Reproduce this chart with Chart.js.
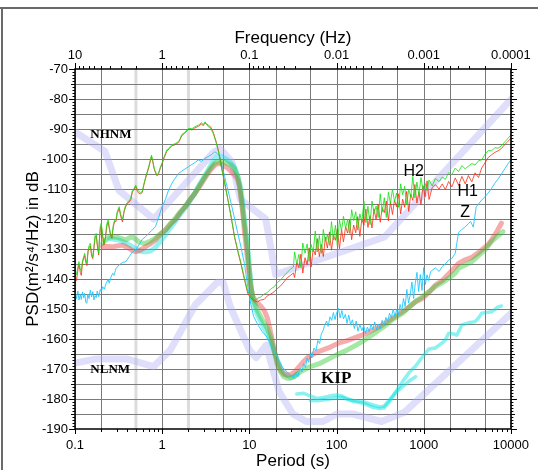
<!DOCTYPE html>
<html>
<head>
<meta charset="utf-8">
<script src="https://cdn.jsdelivr.net/npm/chart.js@4.4.1/dist/chart.umd.min.js"></script>
<style>
  html, body { margin: 0; padding: 0; background: #fff; }
  #wrap { width: 538px; height: 470px; }
</style>
</head>
<body>
<div id="wrap"><canvas id="psd" width="538" height="470"></canvas></div>
<script>
// axis ticks
const periodDecades = [0.1, 1, 10, 100, 1000, 10000];
const periodLabels = ['0.1', '1', '10', '100', '1000', '10000'];
const freqLabels = ['10', '1', '0.1', '0.01', '0.001', '0.0001'];
const periodGrid = [0.1, 0.2, 0.5, 1, 2, 5, 10, 20, 50, 100, 200, 500, 1000, 2000, 5000, 10000];
const microseismGrid = [0.5, 2];

// Peterson noise models
const nhnmPeriod = [0.1, 0.22, 0.32, 0.8, 3.8, 4.6, 6.3, 7.9, 15.4, 20, 354.8, 10000];
const nhnmPsd = [-91.0, -97.4, -110.5, -120.0, -98.0, -96.5, -101.0, -113.5, -120.0, -138.5, -126.0, -80.1];
const nlnmPeriod = [0.1, 0.17, 0.4, 0.8, 1.24, 2.4, 4.3, 5.0, 6.0, 10, 12, 15.6, 21.9, 31.6, 45, 70, 101, 154, 328, 600, 10000];
const nlnmPsd = [-168.0, -166.7, -166.7, -169.2, -163.7, -148.6, -141.1, -141.1, -149.0, -163.7, -166.2, -162.1, -177.5, -185.0, -187.5, -187.5, -185.0, -185.0, -187.5, -184.4, -151.5];

// horizontals H1 / H2 (thin), shared period grids
const leftPeriod = [0.1,0.104,0.108,0.111,0.115,0.118,0.122,0.126,0.129,0.133,0.137,0.141,0.146,0.15,0.155,0.16,0.165,0.17,0.175,0.18,
  0.187,0.19,0.195,0.2,0.207,0.215,0.223,0.232,0.24,0.247,0.255,0.265,0.275,0.285,0.295,0.305,0.321,0.335,0.35,0.365,
  0.38,0.399,0.415,0.436,0.455,0.475,0.497,0.52,0.542,0.565,0.59,0.62,0.645,0.673,0.7,0.73,0.754,0.78,0.8,0.822,
  0.85,0.873,0.91,0.95,0.995,1.05,1.13,1.2,1.29,1.4,1.54,1.6,1.68,1.8,2.0,2.2,2.38,2.6,2.83,2.95,
  3.1,3.37,3.6,3.84,4.18,4.5,4.76,5.2,5.68,6.2,6.76,7.37,8.03,8.8,9.57];
const h2Left = [-137.6,-138.5,-136,-134.2,-136.5,-137.5,-133.8,-132.5,-131.4,-133.5,-134.8,-130.5,-128.6,-128.1,-131.5,-132.6,-129,-125.5,-124.8,-128,
  -131.4,-127,-122.5,-121.4,-125,-128.1,-126,-121.5,-120.3,-122.5,-124.8,-125.9,-122,-120.3,-120.3,-117.5,-115.9,-118.5,-120.3,-117.2,
  -115.5,-114.4,-114,-113.1,-110.5,-109.8,-108.7,-110.2,-110.9,-111.2,-110.9,-108,-106,-104.2,-102.5,-100.4,-98.7,-100.5,-102.3,-103.7,
  -104.6,-105.3,-104.6,-102.8,-101.4,-99.3,-97,-96.2,-95.3,-94.9,-94.2,-93.3,-91.8,-91.2,-89.8,-89.9,-89.2,-88.7,-87.9,-88.6,
  -87.6,-89.2,-89.8,-91.4,-94.8,-98.5,-102.6,-108,-113.7,-119.5,-125.9,-130.5,-134.8,-139.8,-144.2];
const h1Left = [-139.5,-140.5,-137,-135,-137.8,-138.8,-134.5,-133,-132.2,-134.5,-135.5,-131,-129.4,-129,-132.3,-133.2,-129.8,-126.3,-125.5,-128.8,
  -132,-127.8,-123.3,-122.2,-125.8,-128.6,-126.5,-122.3,-121,-123.2,-125.3,-126.4,-122.6,-120.8,-120.9,-118.2,-116.5,-119.2,-121,-117.8,
  -116,-114.8,-114.5,-113.6,-111,-110.2,-109.2,-110.8,-111.5,-111.6,-111.2,-108.4,-106.5,-104.6,-103,-100.8,-99.2,-100.9,-102.7,-104,
  -104.9,-105.6,-104.9,-103.2,-101.7,-99.7,-97.4,-96.6,-95.6,-95.3,-94.5,-93.6,-92.2,-91.5,-90.1,-90.3,-89.6,-89.1,-88.3,-88.9,
  -88,-88.7,-89.3,-91,-94.4,-98.2,-102.3,-107.8,-113.6,-119.6,-126,-130.8,-135.2,-140.3,-144.8];

const bendPeriod = [10.4, 11.2, 11.9, 12.4, 13.5, 14.8, 16.1, 17.6, 19.2, 20.9, 22.8, 24.9, 27.2, 29.6, 32];
const h2Bend = [-145.9, -146.8, -147, -146.4, -146, -145, -144.5, -143.3, -142.6, -141.2, -140.3, -139, -137.8, -136.7, -136];
const h1Bend = [-146.3, -147.2, -147.5, -147.6, -147, -146.8, -145.6, -145, -144.3, -143.2, -142.3, -141, -139.6, -138.8, -138];

const bandPeriod = [33,35,37,39,41,43.5,46,48.5,51,54,57,60,63.5,67,70.5,74.5,78.5,83,87.5,92,
  97,102,108,114,120,127,134,141,149,157,166,175,185,195,206,217,229,242,255,269,
  284,300,317,334,353,372,393,415,438,462,488,515,543,573,605,638,673,710,750,791,
  835,881,930,981,1035,1092,1150];
const h2Band = [-131,-135,-131.8,-136.2,-128,-131.4,-128.3,-134.1,-128.5,-131,-124,-131,-125.5,-131.5,-123.5,-127.6,-125.2,-128.8,-120.9,-127,
  -122.1,-128.8,-120.4,-124,-119.1,-123.1,-120.2,-124.8,-116.9,-120.5,-117.6,-123.7,-118.3,-121,-114.1,-121.2,-115.8,-121.9,-114,-118.1,
  -115.7,-119.5,-111.6,-117.7,-112.9,-119.5,-111.1,-114.8,-110,-114.2,-111.4,-116.1,-108.3,-111.9,-109.1,-115.3,-110,-112.7,-105.8,-113,
  -107.7,-112,-106.2,-110.4,-108.1,-110.5,-107];
const h1Band = [-139.5,-134.5,-136.3,-131.7,-138,-132.9,-135.3,-129.6,-136,-130,-132,-126.5,-132.5,-128.5,-132.5,-126.1,-129.7,-124.3,-130.4,-125.5,
  -127.1,-123.3,-129.9,-123.5,-127.6,-122.6,-124.7,-120.3,-126.9,-122,-124.6,-119.2,-125.8,-120,-122.1,-116.7,-122.8,-118.9,-123,-116.6,
  -120.2,-115,-121.1,-116.2,-117.9,-114,-120.6,-114.3,-118.5,-113.7,-115.9,-111.6,-118.3,-113.4,-116.1,-110.8,-117.5,-111.7,-113.8,-108.5,
  -114.7,-111,-115.2,-108.9,-112.6,-107.3,-113.5];

const tailPeriod = [1250,1360,1500,1630,1770,1930,2100,2300,2510,2740,2990,3250,3560,3880,4250,4620,5030,5490,6000,6530,7100,7780,8500,9200,10000];
const h2Tail = [-109,-106.5,-107.5,-106,-106.8,-104.5,-105.2,-103,-104.2,-102.2,-103.3,-102.4,-101.5,-102,-100.6,-100.3,-98.5,-97.2,-97.3,-96.2,-96.4,-95.6,-94.3,-93.2,-92];
const h1Tail = [-109.5,-108.5,-110,-108.3,-110.2,-107.5,-109.3,-106.3,-108.8,-105.8,-108.3,-105.5,-107.6,-104.6,-106.2,-103,-101.3,-99.5,-98.6,-97.8,-97.3,-96.5,-95.2,-94.2,-93];

// vertical Z (thin)
const zLeftPeriod = [0.1,0.104,0.108,0.111,0.115,0.118,0.122,0.126,0.129,0.133,0.137,0.14,0.145,0.15,0.155,0.16,0.165,0.17,0.175,0.18,
  0.187,0.195,0.2,0.208,0.217,0.227,0.24,0.247,0.258,0.27,0.28,0.295,0.321,0.35,0.383,0.42,0.455,0.497,0.542,0.59,
  0.645,0.7,0.76,0.837,0.91,0.995,1.09,1.185,1.3,1.41,1.54,1.68,1.83,2.0,2.2,2.38,2.59,2.83,3.09,3.37,
  3.65,4.01,4.3,4.57,5.21,6.18,7.37,8.03,8.77,9.57];
const zLeftPsd = [-144.5,-146.5,-144,-147,-145.2,-146.8,-144.3,-146.3,-144.8,-147.8,-148.1,-145,-146.5,-143.7,-146,-144.2,-147,-145.5,-146.2,-144,
  -145.9,-143.5,-144.2,-142.6,-143.4,-141.5,-140.2,-141.4,-139.5,-138.1,-138.8,-136.5,-135.3,-134.5,-134.2,-132.5,-131,-130.3,-128.6,-126.8,
  -125.9,-124.8,-123.8,-122.6,-119.5,-115.9,-113.5,-110.3,-108,-106.4,-104.8,-104,-103.3,-102.6,-101.8,-101.2,-100.3,-100.8,-99.8,-99.2,
  -98.6,-97.6,-98.2,-99.2,-105.9,-114.8,-124.8,-129.5,-134.8,-142.5];
const zMidPeriod = [10.4,11.2,12.4,14,16.1,18,20.9,24,27.2,30,32.4,34,36,38,40,42,44,46,48,50,
  52,55,58,61,64,67,70,73,77,80,84,88,92,96,100,105,110,115,120,126,
  132,138,145,152,160,168,176,185,195,205,215,226,237,249,261,274,288,302,317,333,
  350,368,386,405,425,446,468,490,512,535,560,585,612,640,670,700,732,765,800,836,
  874,913,955,998,1043,1090,1140];
const zMidPsd = [-148.5,-152.5,-155,-157.5,-159.5,-162.5,-166,-169.5,-171,-172.3,-172.8,-171.5,-172.5,-169.8,-171,-168.2,-169.5,-166.3,-167.8,-165,
  -166.3,-163,-164,-160.5,-161.5,-158.2,-157.2,-155.5,-154,-155.8,-152.6,-153.8,-151.2,-153.5,-151.4,-149.8,-153,-150.5,-153.3,-151.8,
  -154.8,-152,-155.2,-153.6,-156.5,-154,-157.4,-155.2,-157.2,-155.5,-158.2,-156,-157.6,-155,-156.9,-154.3,-157,-155,-156.6,-153.8,
  -155.5,-152.8,-154.3,-151.4,-153,-150,-152.5,-150.2,-152,-148.5,-150.6,-146.5,-149.2,-143.5,-148,-145.2,-141,-146.5,-141.4,-137.8,
  -144.2,-138.5,-143.8,-136.2,-141.8,-138.6,-140.5];
const zTailPeriod = [1200,1360,1500,1630,1770,1930,2100,2300,2400,2510,2740,2990,3250,3440,3580,3700,4000,4300,4620,5030,5490,6000,6530,7100,7780,8500,9200,10000];
const zTailPsd = [-137.5,-136.3,-137.5,-135.9,-135,-133.7,-133.2,-131.4,-128,-124.5,-123.5,-122.6,-121.6,-120.8,-121.8,-122.7,-115.9,-114.8,-113.7,-112.6,-111.3,-109.8,-108.1,-106.7,-105,-103.3,-101.7,-100.3];

// KIP smoothed curves (thick)
const h1SmoothPeriod = [0.207,0.247,0.27,0.3,0.35,0.383,0.417,0.455,0.497,0.542,0.59,0.645,0.74,0.837,0.95,1.087,1.25,1.41,1.6,1.83,
  2.1,2.38,2.7,3.09,3.5,4.01,4.57,5.2,5.68,6.18,6.76,7.37,7.71,8.03,8.4,8.77,9.17,9.57,10,10.4,
  11,11.9,13.5,14.8,16.1,17.6,19.2,20.9,22.8,24.9,27.2,30,33,37,42,46,52,59.4,70,85,
  109,130,169,200,261,310,403,500,623,809,964,1150,1360,1630,1930,2300,2510,2990,3560,4250,
  4620,5490,6000,6530,7100,7780];
const h1SmoothPsd = [-129.2,-129.2,-129.3,-129,-128.7,-129.2,-129.8,-130.5,-130.9,-130.6,-130,-129.2,-128.2,-127,-125.2,-123.7,-121.6,-120.3,-118,-115.9,
  -113.5,-111.4,-109,-106.4,-104,-102,-101.4,-102.3,-103.1,-104.2,-105.3,-107,-109.2,-113,-118,-124,-129,-134,-139.5,-143,
  -146,-147.5,-149,-150.5,-153,-158,-163.5,-168,-170.5,-171.8,-172,-171.8,-171,-169.3,-167.5,-166.3,-165.4,-164.4,-163.6,-162.7,
  -161.2,-160.6,-159.4,-158.6,-157,-156,-153.8,-152,-150.2,-147.6,-146.5,-144.5,-142,-140.5,-138.3,-136,-134.8,-133.6,-132.8,-131.2,
  -130.3,-128.5,-127,-125.3,-123.5,-121.4];
const h2SmoothPeriod = [0.207,0.247,0.3,0.35,0.383,0.42,0.455,0.5,0.542,0.59,0.645,0.74,0.837,0.95,1.087,1.25,1.41,1.6,1.83,2.1,
  2.38,2.7,3.09,3.5,4.01,4.57,5.2,5.68,6.18,6.76,7.37,7.71,8.03,8.4,8.77,9.17,9.57,10,10.4,11,
  12.4,14,16.1,17.6,19.2,20.9,22.8,24.9,27.2,29.6,32.4,35.3,42.1,50,64.9,77,100,130,155,200,
  239,300,370,450,572,700,820,964,1150,1360,1630,1930,2300,2510,2990,3560,4250,5030,6000,7100,
  8110];
const h2SmoothPsd = [-128.1,-125.9,-126,-126.6,-127,-126.3,-125.9,-126.8,-127.6,-128,-128.1,-127.3,-126.4,-125,-123.7,-121.5,-119.8,-117.8,-115.9,-113.4,
  -111.4,-108.8,-105.9,-103.5,-101.4,-100.9,-101.1,-101.6,-102,-103.2,-105.9,-109,-112.5,-117,-121.5,-126,-131,-137,-142,-146.5,
  -150.5,-153.5,-156.5,-159.5,-164,-168.5,-171,-172.6,-173.1,-173.1,-172.6,-171.6,-170.3,-169.2,-168.1,-167,-165.3,-163.8,-162.6,-160.7,
  -159.2,-157.2,-155.3,-153.3,-151.4,-149,-147.3,-145.9,-144.2,-142.5,-141.2,-139.8,-138,-136.4,-135.3,-134.2,-132.2,-130.3,-127.5,-125.6,
  -124.2];
const zSmoothPeriod = [0.25,0.32,0.383,0.455,0.54,0.59,0.673,0.74,0.837,0.913,1.05,1.185,1.36,1.54,1.75,2.0,2.3,2.59,2.95,3.37,
  3.84,4.18,4.76,5.4,6.18,6.76,7.37,8.03,8.4,8.77,9.17,9.57,10,10.4,11,12.4,14,16.1,17.6,19.2,
  20.9,22.8,24.9,27.2,29.6,32.4,36];
const zSmoothPsd = [-126.5,-127,-128,-129.2,-130.5,-130.9,-130.9,-130.6,-129.5,-128.1,-126,-123.7,-121.5,-119.2,-117,-114.8,-112,-109.2,-106.5,-103.7,
  -100.6,-99.4,-99.2,-100,-101.4,-102.8,-105.9,-110,-115,-120,-125,-130,-136,-142,-147.5,-152,-155,-158.5,-161,-164,
  -167,-169.5,-171.2,-172.2,-172.8,-172.6,-171.6];
const zLowAPeriod = [35,42,50,59.4,70,77.2,90,100,115,130,155,200,261,310,350,403,480,572,680,809];
const zLowAPsd = [-178.3,-178.1,-179,-179.8,-179.5,-179.2,-178.8,-178.7,-179,-179.8,-180.5,-180.9,-182,-182.6,-182.4,-180.3,-177.8,-175.9,-174,-172.6];
const zLowBPeriod = [50,60,77,100,115,130,155,200,261,310,350,403,480,572,680,743,809,964,1150,1360,
  1630,1770,1930,2200,2400,2740,3250,3880,4250,4620,5490,6000,6530,7100,7780];
const zLowBPsd = [-180.5,-180.6,-180.2,-179.6,-179.4,-180,-180.8,-181.4,-182.8,-183.2,-183,-181,-177.5,-174.2,-171.2,-170,-169,-166,-163.3,-163,
  -161.3,-160.3,-158.1,-158.3,-158.7,-155.3,-154.6,-154.2,-153,-151.4,-151.1,-150.9,-150.2,-149.3,-149];

function pts(periods, psd) {
  return periods.map((p, i) => ({ x: p, y: psd[i] }));
}

function line(label, data, color, width, order) {
  return {
    label: label,
    data: data,
    borderColor: color,
    borderWidth: width,
    order: order,
    pointRadius: 0,
    fill: false,
    tension: 0,
    borderJoinStyle: 'round',
    borderCapStyle: 'round'
  };
}

const lavender = 'rgba(175,175,245,0.4)';
const gridGray = '#7a7a7a';
const sansFont = "'Liberation Sans', Arial, Helvetica, sans-serif";
const serifFont = "'Liberation Serif', 'Times New Roman', serif";

Chart.defaults.font.family = sansFont;
Chart.defaults.color = '#000';

// frame, tick marks, outer border and in-plot labels
const framePlugin = {
  id: 'framePlugin',
  beforeDraw(chart) {
    const ctx = chart.ctx;
    ctx.save();
    ctx.fillStyle = '#fff';
    ctx.fillRect(0, 0, chart.width, chart.height);
    ctx.strokeStyle = '#6a6a6a';
    ctx.lineWidth = 2;
    ctx.beginPath();
    ctx.moveTo(0, 8); ctx.lineTo(chart.width, 8);
    ctx.moveTo(2, 8); ctx.lineTo(2, chart.height);
    ctx.stroke();
    ctx.restore();
  },
  beforeDatasetsDraw(chart) {
    // grid lines, drawn here so they sit under the curves
    const { ctx, chartArea: a, scales } = chart;
    const x = scales.x, y = scales.y;
    ctx.save();
    ctx.strokeStyle = '#dcdcdc';
    ctx.lineWidth = 3;
    ctx.beginPath();
    microseismGrid.forEach(p => {
      const px = x.getPixelForValue(p);
      ctx.moveTo(px, a.top); ctx.lineTo(px, a.bottom);
    });
    ctx.stroke();
    ctx.strokeStyle = gridGray;
    ctx.lineWidth = 1;
    ctx.beginPath();
    periodGrid.forEach(p => {
      if (microseismGrid.includes(p)) return;
      const px = Math.round(x.getPixelForValue(p)) + 0.5;
      ctx.moveTo(px, a.top); ctx.lineTo(px, a.bottom);
    });
    for (let v = -185; v < -70; v += 5) {
      const py = Math.round(y.getPixelForValue(v)) + 0.5;
      ctx.moveTo(a.left, py); ctx.lineTo(a.right, py);
    }
    ctx.stroke();
    ctx.restore();
  },
  afterDraw(chart) {
    const { ctx, chartArea: a, scales } = chart;
    const x = scales.x, y = scales.y;
    ctx.save();
    ctx.strokeStyle = '#000';
    ctx.lineWidth = 1;
    ctx.beginPath();
    // dB ticks, left and right
    for (let v = -190; v <= -70; v++) {
      const py = Math.round(y.getPixelForValue(v)) + 0.5;
      const len = v % 10 === 0 ? 6 : (v % 5 === 0 ? 4 : 2.5);
      ctx.moveTo(a.left, py); ctx.lineTo(a.left - len, py);
      ctx.moveTo(a.right, py); ctx.lineTo(a.right + len, py);
    }
    // period ticks (bottom) and frequency ticks (top)
    periodDecades.forEach((p, i) => {
      const px = Math.round(x.getPixelForValue(p)) + 0.5;
      ctx.moveTo(px, a.bottom); ctx.lineTo(px, a.bottom + 5);
      ctx.moveTo(px, a.top); ctx.lineTo(px, a.top - 6);
      if (i === periodDecades.length - 1) return;
      for (let k = 2; k <= 9; k++) {
        const pb = Math.round(x.getPixelForValue(p * k)) + 0.5;
        ctx.moveTo(pb, a.bottom); ctx.lineTo(pb, a.bottom + 3);
        const pt = Math.round(x.getPixelForValue(p * 10 / k)) + 0.5;
        ctx.moveTo(pt, a.top); ctx.lineTo(pt, a.top - 3);
      }
    });
    ctx.stroke();
    ctx.lineWidth = 1.5;
    ctx.strokeRect(a.left, a.top, a.right - a.left, a.bottom - a.top);

    // labels inside the plot
    ctx.fillStyle = '#000';
    ctx.textBaseline = 'middle';
    ctx.textAlign = 'left';
    ctx.font = 'bold 13px ' + serifFont;
    ctx.fillText('NHNM', x.getPixelForValue(0.15), y.getPixelForValue(-92));
    ctx.fillText('NLNM', x.getPixelForValue(0.15), y.getPixelForValue(-170.3));
    ctx.textAlign = 'center';
    ctx.font = 'bold 17px ' + serifFont;
    ctx.fillText('KIP', x.getPixelForValue(99), y.getPixelForValue(-173.3));
    ctx.font = '16px ' + sansFont;
    ctx.fillText('H2', x.getPixelForValue(768), y.getPixelForValue(-104.2));
    ctx.fillText('H1', x.getPixelForValue(3190), y.getPixelForValue(-110.7));
    ctx.fillText('Z', x.getPixelForValue(2985), y.getPixelForValue(-118));
    ctx.restore();
  }
};

const config = {
  type: 'line',
  data: {
    datasets: [
      line('NHNM', pts(nhnmPeriod, nhnmPsd), lavender, 7, 20),
      line('NLNM', pts(nlnmPeriod, nlnmPsd), lavender, 7, 21),
      line('Z low A', pts(zLowAPeriod, zLowAPsd), 'rgba(0,225,225,0.45)', 3.5, 13),
      line('Z low B', pts(zLowBPeriod, zLowBPsd), 'rgba(0,225,225,0.45)', 3.5, 12),
      line('Z smooth', pts(zSmoothPeriod, zSmoothPsd), 'rgba(0,225,225,0.42)', 5, 11),
      line('H1 smooth', pts(h1SmoothPeriod, h1SmoothPsd), 'rgba(235,70,70,0.45)', 5, 10),
      line('H2 smooth', pts(h2SmoothPeriod, h2SmoothPsd), 'rgba(40,200,40,0.42)', 5, 9),
      line('Z', pts(zLeftPeriod.concat(zMidPeriod, zTailPeriod), zLeftPsd.concat(zMidPsd, zTailPsd)), '#1ec8ff', 0.9, 3),
      line('H1', pts(leftPeriod.concat(bendPeriod, bandPeriod, tailPeriod), h1Left.concat(h1Bend, h1Band, h1Tail)), '#ff2a10', 0.8, 2),
      line('H2', pts(leftPeriod.concat(bendPeriod, bandPeriod, tailPeriod), h2Left.concat(h2Bend, h2Band, h2Tail)), '#10e010', 0.8, 1)
    ]
  },
  options: {
    responsive: false,
    devicePixelRatio: 1,
    animation: false,
    events: [],
    layout: { padding: 0 },
    plugins: {
      legend: { display: false },
      tooltip: { enabled: false }
    },
    scales: {
      x: {
        type: 'logarithmic',
        position: 'bottom',
        min: 0.1,
        max: 10000,
        afterBuildTicks: s => { s.ticks = periodDecades.map(v => ({ value: v })); },
        afterFit: s => { s.height = 41; },
        border: { display: false },
        grid: { display: false, drawTicks: false },
        ticks: {
          autoSkip: false,
          maxRotation: 0,
          padding: 9,
          font: { size: 13 },
          callback: v => {
            const i = periodDecades.indexOf(v);
            return i >= 0 ? periodLabels[i] : '';
          }
        },
        title: { display: true, text: 'Period (s)', font: { size: 17, lineHeight: 1 }, padding: 0 }
      },
      xTop: {
        type: 'logarithmic',
        position: 'top',
        min: 0.1,
        max: 10000,
        afterBuildTicks: s => { s.ticks = periodDecades.map(v => ({ value: v })); },
        afterFit: s => { s.height = 69; },
        border: { display: false },
        grid: { display: false, drawTicks: false },
        ticks: {
          autoSkip: false,
          maxRotation: 0,
          padding: 6,
          font: { size: 13 },
          callback: v => {
            const i = periodDecades.indexOf(v);
            return i >= 0 ? freqLabels[i] : '';
          }
        },
        title: { display: true, text: 'Frequency (Hz)', font: { size: 17, lineHeight: 1 }, padding: { top: 30 } }
      },
      y: {
        type: 'linear',
        position: 'left',
        min: -190,
        max: -70,
        afterFit: s => { s.width = 75; },
        border: { display: false },
        grid: { display: false, drawTicks: false },
        ticks: {
          stepSize: 10,
          padding: 7,
          font: { size: 13 }
        },
        title: { display: true, text: 'PSD(m\u00B2/s\u2074/Hz) in dB', font: { size: 17, lineHeight: 1 }, padding: { top: 25 } }
      },
      y2: {
        type: 'linear',
        position: 'right',
        min: -190,
        max: -70,
        afterFit: s => { s.width = 21; },
        border: { display: false },
        grid: { display: false, drawTicks: false },
        ticks: { display: false }
      }
    }
  },
  plugins: [framePlugin]
};

new Chart(document.getElementById('psd').getContext('2d'), config);
</script>
</body>
</html>
